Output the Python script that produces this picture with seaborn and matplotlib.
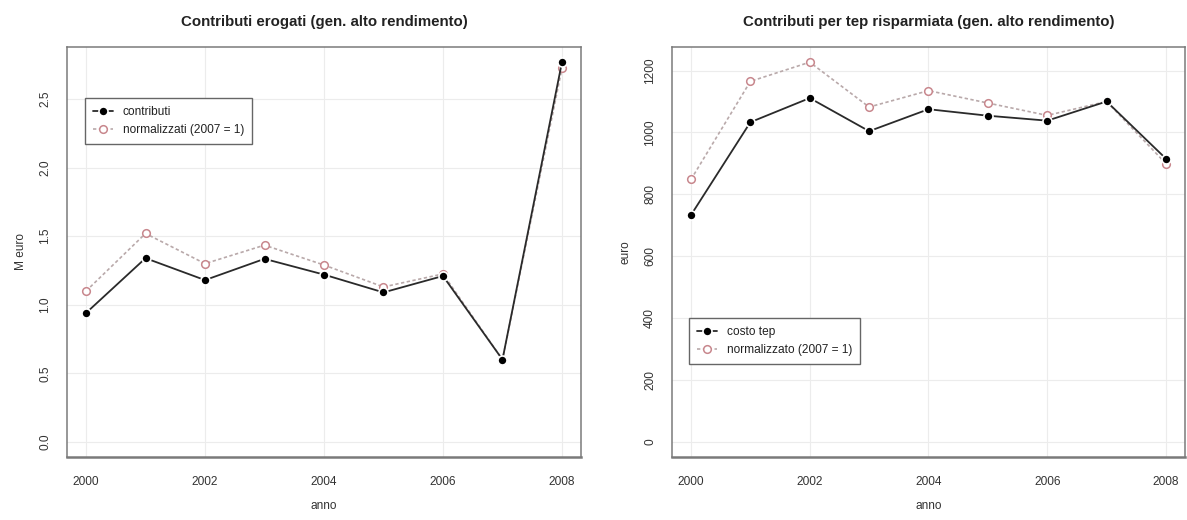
import pandas as pd
import matplotlib
matplotlib.use("Agg")
import matplotlib.pyplot as plt
import seaborn as sns

years = [2000, 2001, 2002, 2003, 2004, 2005, 2006, 2007, 2008]

# left panel: M euro
contributi = [0.94, 1.34, 1.18, 1.335, 1.22, 1.09, 1.21, 0.60, 2.77]
contributi_norm = [1.10, 1.52, 1.30, 1.435, 1.29, 1.13, 1.225, 0.60, 2.725]

# right panel: euro per tep
costo_tep = [733, 1033, 1111, 1004, 1075, 1054, 1038, 1100, 915]
costo_tep_norm = [848, 1165, 1227, 1082, 1135, 1095, 1055, 1100, 899]

left_yticks = [0.0, 0.5, 1.0, 1.5, 2.0, 2.5]
right_yticks = [0, 200, 400, 600, 800, 1000, 1200]
xticks = [2000, 2002, 2004, 2006, 2008]

sns.set_style("white")
plt.rcParams['font.family'] = ['Liberation Sans', 'DejaVu Sans']

BOX = '#7a7a7a'
NORM_LINE = '#b9a9aa'
NORM_PT = '#c8878d'

fig = plt.figure(figsize=(11.87, 5.2), dpi=100)
ax1 = fig.add_axes([67 / 1187, 63 / 520, 514 / 1187, 410 / 520])
ax2 = fig.add_axes([672 / 1187, 63 / 520, 513 / 1187, 410 / 520])


def draw(ax, main, norm, lab_main, lab_norm, yticks, fmt, title, ylabel, leg_xy):
    df = pd.DataFrame({'anno': years, 'main': main, 'norm': norm})
    sns.lineplot(data=df, x='anno', y='main', ax=ax, color='#2a2a2a', lw=1.3,
                 marker='o', markersize=6.5, markerfacecolor='black',
                 markeredgecolor='white', markeredgewidth=1.2, label=lab_main, zorder=4)
    sns.lineplot(data=df, x='anno', y='norm', ax=ax, color=NORM_LINE, lw=1.2,
                 linestyle=(0, (2, 1.5)), marker='o', markersize=5.5,
                 markerfacecolor='white', markeredgecolor=NORM_PT,
                 markeredgewidth=1.1, label=lab_norm, zorder=3)

    hi = max(max(main), max(norm))
    ax.set_xlim(2000 - 0.32, 2008 + 0.32)
    ax.set_ylim(-0.04 * hi, hi * 1.04)
    ax.set_xticks(xticks)
    ax.set_yticks(yticks)
    ax.set_yticklabels([fmt.format(v) for v in yticks], rotation=90, va='center')
    ax.tick_params(axis='both', direction='out', length=5.5, width=0.9, color=BOX,
                   labelsize=8.6, labelcolor='#333333')
    ax.tick_params(axis='x', pad=8)
    ax.tick_params(axis='y', pad=6)
    ax.grid(True, color='#ececec', lw=0.8)
    for s in ax.spines.values():
        s.set_color(BOX)
        s.set_linewidth(1.1)
    ax.spines['bottom'].set_linewidth(1.8)

    ax.set_title(title, fontsize=10.8, fontweight='bold', color='#222222', pad=15)
    ax.set_xlabel('anno', fontsize=8.6, color='#333333', labelpad=9)
    ax.set_ylabel(ylabel, fontsize=8.6, color='#333333', labelpad=9)

    leg = ax.legend(loc='upper left', bbox_to_anchor=leg_xy, bbox_transform=fig.transFigure,
                    borderaxespad=0, fontsize=8.6, frameon=True, fancybox=False,
                    handlelength=1.7, handletextpad=0.8, borderpad=0.65,
                    labelspacing=0.5, framealpha=1)
    leg.get_frame().set_edgecolor('#666666')
    leg.get_frame().set_linewidth(1.0)
    for t in leg.get_texts():
        t.set_color('#222222')


draw(ax1, contributi, contributi_norm, 'contributi', 'normalizzati (2007 = 1)',
     left_yticks, '{:.1f}', 'Contributi erogati (gen. alto rendimento)', 'M euro',
     (85 / 1187, 1 - 98 / 520))
draw(ax2, costo_tep, costo_tep_norm, 'costo tep', 'normalizzato (2007 = 1)',
     right_yticks, '{:d}', 'Contributi per tep risparmiata (gen. alto rendimento)', 'euro',
     (689 / 1187, 1 - 318 / 520))

fig.savefig('out.png', dpi=100)
